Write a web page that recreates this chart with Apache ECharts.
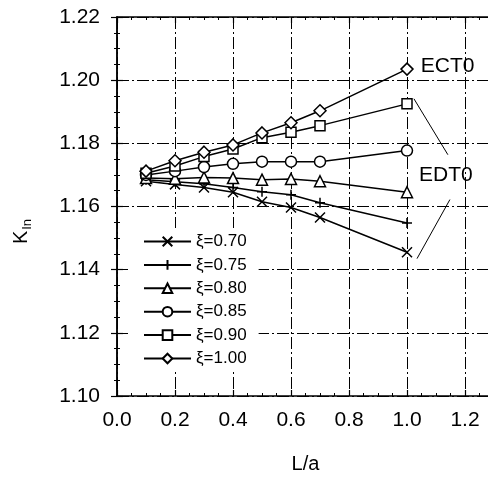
<!DOCTYPE html>
<html>
<head>
<meta charset="utf-8">
<title>K_In vs L/a</title>
<script src="https://cdn.jsdelivr.net/npm/echarts@6/dist/echarts.min.js"></script>
<style>html,body{margin:0;padding:0;background:#fff;}</style>
</head>
<body>
<div id="main" style="width:488px;height:477px;"></div>
<script type="text/javascript">
// L/a values where points were computed
var la = [0.1, 0.2, 0.3, 0.4, 0.5, 0.6, 0.7, 1.0];
// K_In for each xi
var xi070 = [1.1680, 1.1670, 1.1660, 1.1645, 1.1615, 1.1597, 1.1565, 1.1455];
var xi075 = [1.1685, 1.1678, 1.1672, 1.1660, 1.1647, 1.1637, 1.1612, 1.1548];
var xi080 = [1.1690, 1.1688, 1.1692, 1.1690, 1.1685, 1.1687, 1.1680, 1.1645];
var xi085 = [1.1700, 1.1712, 1.1725, 1.1735, 1.1742, 1.1742, 1.1742, 1.1777];
var xi090 = [1.1705, 1.1728, 1.1758, 1.1782, 1.1818, 1.1835, 1.1856, 1.1925];
var xi100 = [1.1712, 1.1745, 1.1772, 1.1795, 1.1833, 1.1865, 1.1903, 1.2035];
var names = ['ξ=0.70', 'ξ=0.75', 'ξ=0.80', 'ξ=0.85', 'ξ=0.90', 'ξ=1.00'];
// annotation positions (data coords)
var labelPts = [['ECT0', 1.14, 1.2045], ['EDT0', 1.134, 1.1698]];
var leaderLines = [[[1.024, 1.1941], [1.141, 1.1764]], [[1.148, 1.1622], [1.0345, 1.1435]]];

var myChart = echarts.init(document.getElementById('main'));

function pairs(arr) {
    return la.map(function (x, i) { return [x, arr[i]]; });
}

var symX = 'path://M0,0L10,10M10,0L0,10';
var symPlus = 'path://M5,0L5,10M0,5L10,5';

function mkSeries(name, data, symbol, size) {
    return {
        name: name,
        type: 'line',
        data: pairs(data),
        symbol: symbol,
        symbolSize: size,
        showAllSymbol: true,
        lineStyle: { color: '#000', width: 1.5 },
        itemStyle: { color: '#fff', borderColor: '#000', borderWidth: 1.5 },
        z: 3
    };
}

var series = [
    mkSeries(names[0], xi070, symX, 10),
    mkSeries(names[1], xi075, symPlus, 10),
    mkSeries(names[2], xi080, 'triangle', 11),
    mkSeries(names[3], xi085, 'circle', 11),
    mkSeries(names[4], xi090, 'rect', 10),
    mkSeries(names[5], xi100, 'diamond', 12)
];
series[5].markLine = {
    silent: true,
    symbol: ['none', 'none'],
    label: { show: false },
    lineStyle: { color: '#000', width: 1, type: 'solid' },
    data: leaderLines.map(function (l) {
        return [{ coord: l[0] }, { coord: l[1] }];
    })
};
series[5].markPoint = {
    silent: true,
    symbol: 'circle',
    symbolSize: 1,
    itemStyle: { color: 'rgba(0,0,0,0)', borderWidth: 0 },
    label: { show: true, position: 'inside', formatter: '{b}', color: '#000',
             fontSize: 21, fontFamily: 'Liberation Sans' },
    data: labelPts.map(function (p) { return { name: p[0], coord: [p[1], p[2]] }; })
};

var axisLine = { show: true, lineStyle: { color: '#000', width: 1.5 } };
var tick = { show: true, inside: true, length: 6, lineStyle: { color: '#000', width: 1.2 } };
var grid = { show: true, lineStyle: { color: '#000', width: 1, type: [12, 3, 2, 3] } };

var option = {
    animation: false,
    textStyle: { fontFamily: 'Liberation Sans' },
    grid: { left: 117, top: 17, right: -6, bottom: 81, outerBoundsMode: 'none', containLabel: false },
    legend: {
        orient: 'vertical',
        left: 128, top: 228,
        padding: [5, 12, 5, 15],
        backgroundColor: '#fff',
        itemWidth: 47, itemHeight: 12, itemGap: 6.4,
        textStyle: { fontSize: 17, color: '#000', fontFamily: 'Liberation Sans' },
        data: names
    },
    xAxis: [{
        type: 'value', min: 0, max: 1.3, interval: 0.2, position: 'bottom',
        axisLine: axisLine, axisTick: tick,
        minorTick: { show: true, splitNumber: 4, length: 3, lineStyle: { color: '#000' } },
        splitLine: grid,
        axisLabel: { fontSize: 21, color: '#000', margin: 14, showMaxLabel: false,
                     formatter: function (v) { return v.toFixed(1); } },
        name: 'L/a', nameLocation: 'middle', nameGap: 58,
        nameTextStyle: { fontSize: 20, color: '#000' }
    }, {
        type: 'value', min: 0, max: 1.3, interval: 0.2, position: 'top',
        axisLine: axisLine, axisTick: tick,
        minorTick: { show: true, splitNumber: 4, length: 3, lineStyle: { color: '#000' } },
        splitLine: { show: false }, axisLabel: { show: false }
    }],
    yAxis: [{
        type: 'value', min: 1.10, max: 1.22, interval: 0.02, position: 'left',
        axisLine: axisLine, axisTick: tick,
        minorTick: { show: true, splitNumber: 4, length: 3, lineStyle: { color: '#000' } },
        splitLine: grid,
        axisLabel: { fontSize: 21, color: '#000', margin: 17,
                     formatter: function (v) { return v.toFixed(2); } },
        name: '{k|K}{s|In}', nameLocation: 'middle', nameGap: 83, nameRotate: 90,
        nameTextStyle: {
            color: '#000', padding: [0, 50, 0, 0],
            rich: {
                k: { fontSize: 20, color: '#000' },
                s: { fontSize: 13, color: '#000', padding: [12, 0, 0, 1] }
            }
        }
    }, {
        type: 'value', min: 1.10, max: 1.22, interval: 0.02, position: 'right',
        axisLine: axisLine, axisTick: tick,
        minorTick: { show: true, splitNumber: 4, length: 3, lineStyle: { color: '#000' } },
        splitLine: { show: false }, axisLabel: { show: false }
    }],
    series: series
};
myChart.setOption(option);
</script>
</body>
</html>
